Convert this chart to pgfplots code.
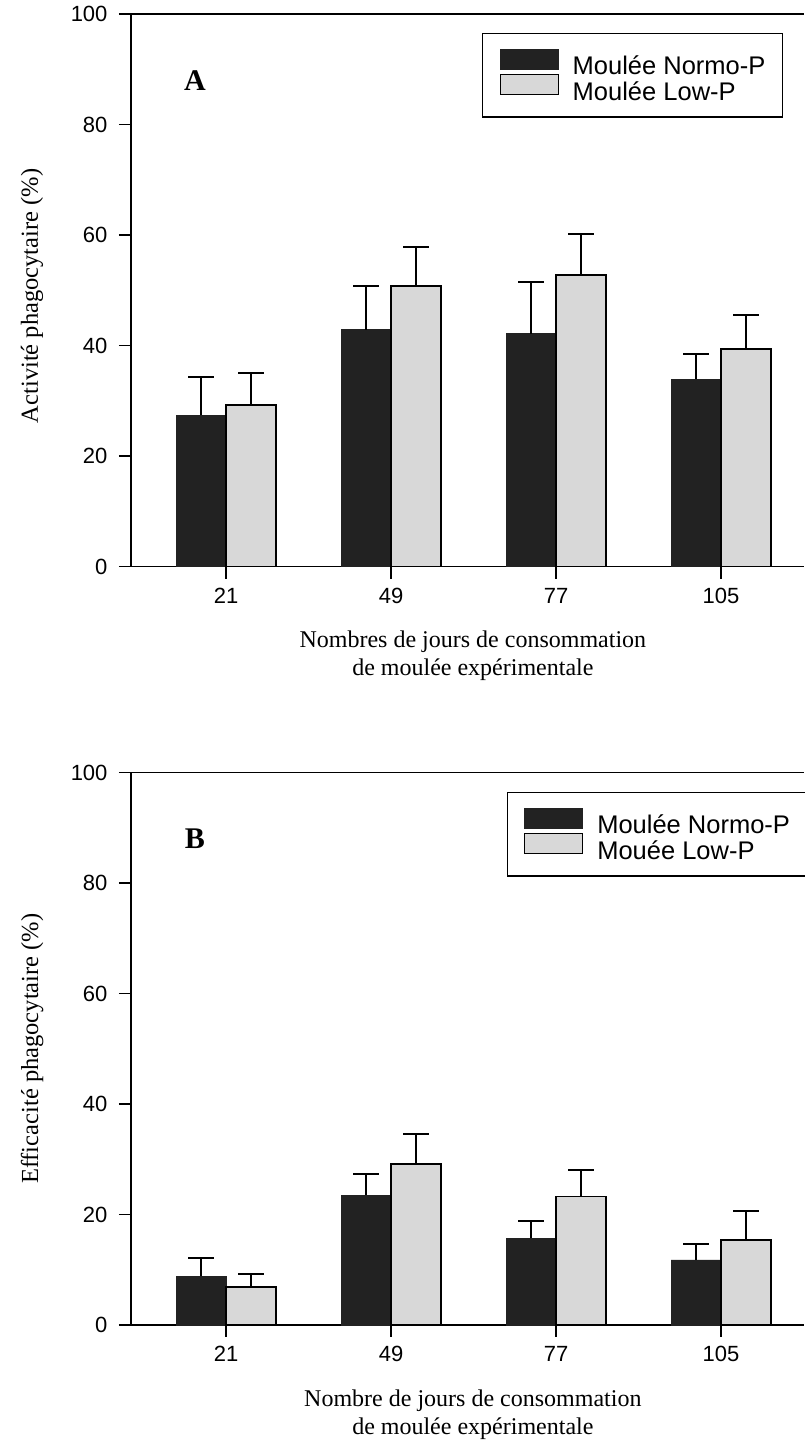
\documentclass[border=0pt]{standalone}
\usepackage{fontspec}
\setmainfont{Liberation Serif}
\newfontfamily\sansf{Liberation Sans}
\usepackage{pgfplots}
\pgfplotsset{compat=1.18}
\usepackage{pgfplotstable}
\definecolor{barblack}{RGB}{34,34,34}
\definecolor{bargray}{RGB}{216,216,216}

\pgfplotstableread{
x n ne l le
1 27.4 7.0 29.3 5.7
2 42.9 7.9 50.8 7.0
3 42.2 9.3 52.8 7.5
4 33.9 4.6 39.4 6.1
}\dataA

\pgfplotstableread{
x n ne l le
1 8.8 3.3 6.9 2.3
2 23.5 3.9 29.1 5.5
3 15.7 3.2 23.3 4.8
4 11.8 2.9 15.4 5.2
}\dataB

\pgfplotsset{
  panel/.style={
    anchor=south west, scale only axis, width=673pt, height=552.5pt,
    xmin=0.4242, xmax=4.503, ymin=0, ymax=100,
    axis x line*=bottom, axis y line*=left,
    axis line style={-, line width=1.5pt, black},
    xtick={1,2,3,4}, xticklabels={21,49,77,105},
    ytick={0,20,40,60,80,100},
    tick align=outside, major tick length=12pt,
    tick style={line width=1.5pt, black},
    ticklabel style={font=\sansf\fontsize{22}{26}\selectfont},
    xticklabel style={yshift=-6pt},
    yticklabel style={xshift=-8pt},
    /pgf/number format/assume math mode=true,
    ybar, bar width=0.303,
    clip=false,
    xlabel style={at={(rel axis cs:0.508,0)}, anchor=north, yshift=-61pt, align=center, font=\fontsize{24}{28}\selectfont},
    legend style={anchor=north west, draw=black, line width=1.5pt,
      font=\sansf\fontsize{25.5}{28}\selectfont, inner xsep=17pt, inner ysep=15pt,
      nodes={inner sep=0pt}, row sep=-2pt,
      /tikz/every odd column/.append style={column sep=14pt},
      legend cell align=left},
    legend image code/.code={\draw[#1, line width=1pt] (0pt,-3pt) rectangle (58pt,17pt);},
  },
  errA/.style={error bars/.cd, y dir=plus, y explicit,
    error bar style={line width=2pt, black},
    error mark options={rotate=90, mark size=13pt, line width=2pt, black}},
}

\begin{document}
\begin{tikzpicture}[x=1pt,y=1pt]
\begin{axis}[panel, at={(131pt,882.3pt)},
  ylabel={Activité phagocytaire (\%)},
  ylabel style={at={(rel axis cs:-0.147,0.49)}, anchor=center, font=\fontsize{24.5}{28}\selectfont},
  xlabel={Nombres de jours de consommation\\de moulée expérimentale},
  legend style={at={(rel axis cs:0.5215,0.966)}}]
\addplot[fill=barblack, draw=barblack, bar shift=-0.1515, errA]
  table[x=x, y=n, y error=ne]{\dataA};
\addplot[fill=bargray, draw=black, line width=1.5pt, bar shift=0.1515, errA]
  table[x=x, y=l, y error=le]{\dataA};
\legend{Moulée Normo-P, Moulée Low-P}
\draw[line width=1.5pt] (rel axis cs:0,1) -- (rel axis cs:1,1);
\node[font=\bfseries\fontsize{30}{30}\selectfont] at (rel axis cs:0.095,0.879) {A};
\end{axis}
\begin{axis}[panel, at={(131pt,124pt)},
  ylabel={Efficacité phagocytaire (\%)},
  ylabel style={at={(rel axis cs:-0.147,0.5)}, anchor=center, font=\fontsize{24.5}{28}\selectfont},
  xlabel={Nombre de jours de consommation\\de moulée expérimentale},
  legend style={at={(rel axis cs:0.558,0.965)}}]
\addplot[fill=barblack, draw=barblack, bar shift=-0.1515, errA]
  table[x=x, y=n, y error=ne]{\dataB};
\addplot[fill=bargray, draw=black, line width=1.5pt, bar shift=0.1515, errA]
  table[x=x, y=l, y error=le]{\dataB};
\legend{Moulée Normo-P, Mouée Low-P}
\draw[line width=1.5pt] (rel axis cs:0,1) -- (rel axis cs:1,1);
\node[font=\bfseries\fontsize{30}{30}\selectfont] at (rel axis cs:0.095,0.881) {B};
\end{axis}
\pgfresetboundingbox
\path[use as bounding box] (0,0) rectangle (804pt,1449pt);
\end{tikzpicture}
\end{document}
